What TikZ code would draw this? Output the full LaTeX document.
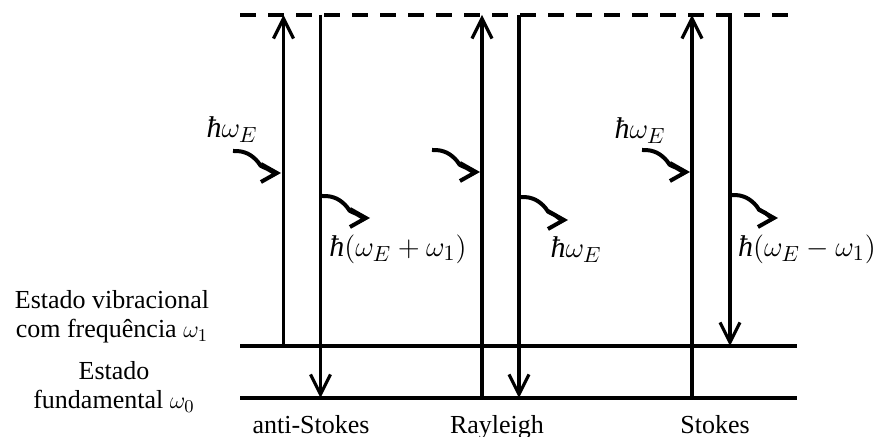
\documentclass[tikz,border=0pt]{standalone}
\usepackage[no-math]{fontspec}
\setmainfont{Liberation Serif}
\usetikzlibrary{arrows.meta}
\newcommand{\hbarit}{\mbox{\itshape ħ}}

\begin{document}
\begin{tikzpicture}[
    x=0.5pt, y=-0.5pt,
    font=\fontsize{13}{14.5}\selectfont,
    level/.style={line width=1.8pt},
    virtual/.style={line width=2pt, dash pattern=on 8pt off 6pt},
    trans/.style={line width=1.6pt, -{Straight Barb[length=10pt, width=10pt]}},
    photon/.style={line width=2pt, -{Straight Barb[length=8pt, width=9pt]},
        to path={.. controls +(12,-0.5) and +(-6,-7) .. ++(25,11)
                 .. controls +(3,4) and +(-3,-1) .. ++(5,5)
                 .. controls +(6,2) and +(-8,0) .. (\tikztotarget)}},
    energy/.style={inner sep=1pt, font=\fontsize{15}{17}\selectfont},
    lbl/.style={inner sep=0pt, anchor=base},
    state/.style={inner sep=0pt, align=center}
]
\useasboundingbox (0,0) rectangle (880,437);

% levels
\coordinate (topL) at (240,15);
\coordinate (topR) at (790,15);
\coordinate (vibL) at (240,346);
\coordinate (vibR) at (797,346);
\coordinate (gndL) at (240,398);
\coordinate (gndR) at (797,398);

\draw[virtual] (topL) -- (topR);
\draw[level] (vibL) -- (vibR);
\draw[level] (gndL) -- (gndR);

\node[state] (vibtext) at (112,317) {Estado vibracional\\com frequência $\omega_1$};
\node[state] (gndtext) at (114,387) {Estado\\fundamental $\omega_0$};

% anti-Stokes
\draw[trans] (283.5,346) coordinate (asUpB) -- (283.5,15) coordinate (asUpT);
\draw[trans] (320.5,15) coordinate (asDnT) -- (320.5,398) coordinate (asDnB);
\coordinate (asIn) at (233,151);
\coordinate (asInT) at (281,173);
\coordinate (asOut) at (322,196);
\coordinate (asOutT) at (370,218);
\draw[photon] (asIn) to (asInT);
\draw[photon] (asOut) to (asOutT);
\node[energy] (asInLbl) at (232,130) {$\hbarit\omega_E$};
\node[energy] (asOutLbl) at (398,249) {$\hbarit(\omega_E+\omega_1)$};
\node[lbl] (asName) at (311,434) {anti-Stokes};

% Rayleigh
\draw[trans] (482,398) coordinate (raUpB) -- (482,15) coordinate (raUpT);
\draw[trans] (519,15) coordinate (raDnT) -- (519,398) coordinate (raDnB);
\coordinate (raIn) at (432,150);
\coordinate (raInT) at (480,172);
\coordinate (raOut) at (520.5,197);
\coordinate (raOutT) at (568,220);
\draw[photon] (raIn) to (raInT);
\draw[photon] (raOut) to (raOutT);
\node[energy] (raOutLbl) at (576,250) {$\hbarit\omega_E$};
\node[lbl] (raName) at (497,434) {Rayleigh};

% Stokes
\draw[trans] (692,398) coordinate (stUpB) -- (692,15) coordinate (stUpT);
\draw[trans] (730,15) coordinate (stDnT) -- (730,346) coordinate (stDnB);
\coordinate (stIn) at (642,150);
\coordinate (stInT) at (690,172);
\coordinate (stOut) at (731.5,195);
\coordinate (stOutT) at (778,218);
\draw[photon] (stIn) to (stInT);
\draw[photon] (stOut) to (stOutT);
\node[energy] (stInLbl) at (640,131) {$\hbarit\omega_E$};
\node[energy] (stOutLbl) at (807,249) {$\hbarit(\omega_E-\omega_1)$};
\node[lbl] (stName) at (715,434) {Stokes};

\end{tikzpicture}
\end{document}
